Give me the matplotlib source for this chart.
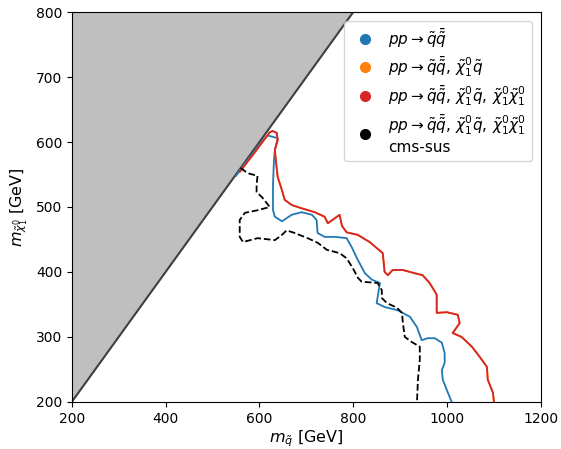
import matplotlib
matplotlib.use("Agg")
import matplotlib.pyplot as plt
from matplotlib.lines import Line2D

# exclusion contours, (m_squark, m_neutralino) in GeV
blue_x = [550, 580, 605, 618, 639, 633, 631, 629, 629, 633, 648, 669, 690, 712, 722, 724,
          739, 761, 786, 797, 808, 825, 840, 857, 850, 867, 895, 921, 936, 946, 959, 974,
          989, 995, 995, 989, 991, 1002, 1010]
blue_y = [548, 577, 601, 610, 606, 588, 572, 534, 495, 485, 478, 488, 492, 488, 480, 460,
          454, 454, 452, 438, 421, 398, 388, 383, 352, 346, 341, 331, 315, 295, 298, 298,
          291, 275, 260, 249, 234, 214, 200]

red_x = [558, 590, 622, 628, 637, 639, 633, 635, 639, 648, 654, 669, 690, 718, 739, 746,
         771, 776, 786, 810, 835, 863, 867, 874, 884, 906, 931, 948, 963, 978, 978, 1000,
         1023, 1027, 1012, 1031, 1053, 1070, 1085, 1087, 1098, 1100]
red_y = [554, 584, 615, 617, 614, 603, 588, 572, 546, 526, 511, 503, 498, 492, 485, 475,
         488, 471, 461, 457, 446, 429, 400, 395, 403, 403, 398, 395, 383, 365, 337, 338,
         334, 321, 306, 300, 285, 269, 254, 234, 214, 200]

# second process set lies on top of the full set
orange_x = list(red_x)
orange_y = list(red_y)

cms_x = [560, 575, 596, 594, 594, 607, 622, 596, 569, 558, 558, 565, 596, 633, 648, 658,
         675, 703, 724, 744, 771, 786, 799, 810, 818, 852, 861, 861, 872, 893, 904, 906,
         910, 925, 942, 942, 938, 936]
cms_y = [560, 552, 548, 534, 523, 514, 500, 495, 491, 480, 454, 446, 452, 449, 457, 464,
         460, 452, 445, 434, 429, 421, 406, 391, 385, 383, 372, 360, 352, 345, 337, 321,
         300, 292, 285, 265, 234, 200]

pp = r"pp\rightarrow\tilde{q}\bar{\tilde{q}}"
labels = [
    "$" + pp + "$",
    "$" + pp + r",\,\tilde{\chi}_1^0\tilde{q}$",
    "$" + pp + r",\,\tilde{\chi}_1^0\tilde{q},\,\tilde{\chi}_1^0\tilde{\chi}_1^0$",
    "$" + pp + r",\,\tilde{\chi}_1^0\tilde{q},\,\tilde{\chi}_1^0\tilde{\chi}_1^0$" + "\ncms-sus",
]
colors = ["tab:blue", "tab:orange", "tab:red", "black"]

fig = plt.figure(figsize=(5.61, 4.49), dpi=100)
ax = fig.add_axes([0.128, 0.105, 0.836, 0.868])

# kinematically forbidden region m_chi > m_squark
ax.fill([200, 800, 200], [200, 800, 800], color="#bfbfbf", zorder=1)
ax.plot([200, 800], [200, 800], color="#404040", lw=1.5, zorder=2)

ax.plot(blue_x, blue_y, color="tab:blue", lw=1.3, zorder=3)
ax.plot(orange_x, orange_y, color="tab:orange", lw=1.3, zorder=3)
ax.plot(red_x, red_y, color="tab:red", lw=1.3, zorder=3)
ax.plot(cms_x, cms_y, color="black", lw=1.3, ls="--", zorder=3)

ax.set_xlim(200, 1200)
ax.set_ylim(200, 800)
ax.set_xlabel(r"$m_{\tilde{q}}$ [GeV]", fontsize=11.5, labelpad=2)
ax.set_ylabel(r"$m_{\tilde{\chi}_1^0}$ [GeV]", fontsize=11.5)

handles = [Line2D([], [], ls="none", marker="o", markersize=7, color=c) for c in colors]
ax.legend(handles, labels, loc="upper right", fontsize=11, handletextpad=0.5,
          borderaxespad=0.55, labelspacing=0.3)

fig.savefig("out.png", dpi=100)
